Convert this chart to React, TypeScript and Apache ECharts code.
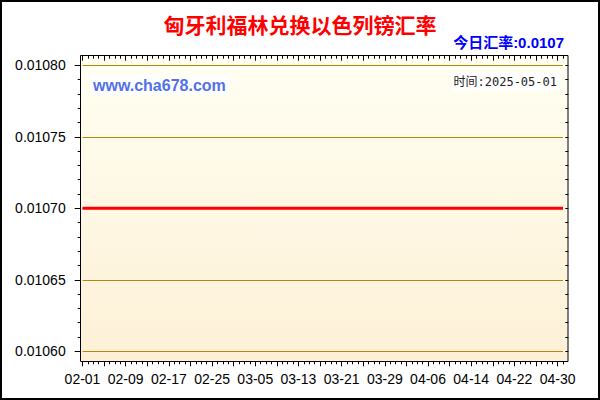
import React, { useEffect, useRef } from "react";
import * as echarts from "echarts";

const titleText = "匈牙利福林兑换以色列镑汇率";
const todayText = "今日汇率:0.0107";
const timeText = "时间:2025-05-01";
const siteText = "www.cha678.com";

const dates: string[] = [
  "02-01","02-02","02-03","02-04","02-05","02-06","02-07","02-08","02-09","02-10",
  "02-11","02-12","02-13","02-14","02-15","02-16","02-17","02-18","02-19","02-20",
  "02-21","02-22","02-23","02-24","02-25","02-26","02-27","02-28",
  "03-01","03-02","03-03","03-04","03-05","03-06","03-07","03-08","03-09","03-10",
  "03-11","03-12","03-13","03-14","03-15","03-16","03-17","03-18","03-19","03-20",
  "03-21","03-22","03-23","03-24","03-25","03-26","03-27","03-28","03-29","03-30","03-31",
  "04-01","04-02","04-03","04-04","04-05","04-06","04-07","04-08","04-09","04-10",
  "04-11","04-12","04-13","04-14","04-15","04-16","04-17","04-18","04-19","04-20",
  "04-21","04-22","04-23","04-24","04-25","04-26","04-27","04-28","04-29","04-30",
  "05-01",
];

const rates: number[] = [
  0.0107,0.0107,0.0107,0.0107,0.0107,0.0107,0.0107,0.0107,0.0107,0.0107,
  0.0107,0.0107,0.0107,0.0107,0.0107,0.0107,0.0107,0.0107,0.0107,0.0107,
  0.0107,0.0107,0.0107,0.0107,0.0107,0.0107,0.0107,0.0107,
  0.0107,0.0107,0.0107,0.0107,0.0107,0.0107,0.0107,0.0107,0.0107,0.0107,
  0.0107,0.0107,0.0107,0.0107,0.0107,0.0107,0.0107,0.0107,0.0107,0.0107,
  0.0107,0.0107,0.0107,0.0107,0.0107,0.0107,0.0107,0.0107,0.0107,0.0107,0.0107,
  0.0107,0.0107,0.0107,0.0107,0.0107,0.0107,0.0107,0.0107,0.0107,0.0107,
  0.0107,0.0107,0.0107,0.0107,0.0107,0.0107,0.0107,0.0107,0.0107,0.0107,
  0.0107,0.0107,0.0107,0.0107,0.0107,0.0107,0.0107,0.0107,0.0107,0.0107,
  0.0107,
];

const yMin = 0.0106;
const yMax = 0.0108;
const yStep = 0.00005;

const sansFont = '"Liberation Sans", Arial, "Noto Sans CJK SC", sans-serif';
const cjkBold = '"Liberation Sans", Arial, "Noto Sans CJK SC", sans-serif';

export default function App() {
  const ref = useRef<HTMLDivElement>(null);

  useEffect(() => {
    if (!ref.current) return;
    const chart = echarts.init(ref.current, undefined, { renderer: "svg" });

    const tickStyle = { color: "#000", width: 1 };
    const hiddenLine = { show: false };

    const option: any = {
      animation: false,
      backgroundColor: "#ffffff",
      grid: { left: 82.5, right: 37, top: 65.3, bottom: 48.7, containLabel: false },
      xAxis: [
        {
          type: "category",
          data: dates,
          boundaryGap: false,
          position: "bottom",
          offset: 10,
          axisLine: hiddenLine,
          axisTick: { show: true, interval: 0, length: 3, lineStyle: tickStyle },
          axisLabel: {
            interval: 7,
            margin: 11,
            fontSize: 14,
            color: "#000",
            fontFamily: sansFont,
          },
          splitLine: { show: false },
        },
        {
          type: "category",
          data: dates,
          boundaryGap: false,
          position: "bottom",
          offset: 10,
          axisLine: hiddenLine,
          axisTick: { show: true, interval: 3, length: 5, lineStyle: tickStyle },
          axisLabel: { show: false },
          splitLine: { show: false },
        },
        {
          type: "category",
          data: dates,
          boundaryGap: false,
          position: "top",
          offset: 9.6,
          axisLine: hiddenLine,
          axisTick: { show: true, inside: true, interval: 0, length: 3, lineStyle: tickStyle },
          axisLabel: { show: false },
          splitLine: { show: false },
        },
        {
          type: "category",
          data: dates,
          boundaryGap: false,
          position: "top",
          offset: 9.6,
          axisLine: hiddenLine,
          axisTick: { show: true, inside: true, interval: 3, length: 5, lineStyle: tickStyle },
          axisLabel: { show: false },
          splitLine: { show: false },
        },
      ],
      yAxis: [
        {
          type: "value",
          position: "left",
          min: yMin,
          max: yMax,
          interval: yStep,
          offset: 1.8,
          axisLine: hiddenLine,
          axisTick: { show: true, length: 6, lineStyle: tickStyle },
          minorTick: { show: true, splitNumber: 5, length: 3, lineStyle: tickStyle },
          axisLabel: {
            margin: 15,
            fontSize: 14,
            color: "#000",
            fontFamily: sansFont,
            formatter: (v: number) => v.toFixed(5),
          },
          splitLine: { show: true, lineStyle: { color: "#B8860B", width: 1 } },
        },
        {
          type: "value",
          position: "right",
          min: yMin,
          max: yMax,
          interval: 0.00001,
          offset: 5.3,
          axisLine: hiddenLine,
          axisTick: { show: true, inside: true, length: 3, lineStyle: tickStyle },
          axisLabel: { show: false },
          splitLine: { show: false },
        },
      ],
      graphic: [
        {
          type: "rect",
          z: -10,
          silent: true,
          shape: { x: 80.5, y: 55.5, width: 487.5, height: 306 },
          style: {
            fill: new echarts.graphic.LinearGradient(0, 0, 0, 1, [
              { offset: 0, color: "#FFFFF2" },
              { offset: 1, color: "#FDF0D6" },
            ]),
            stroke: "none",
          },
        },
        {
          type: "rect",
          z: 100,
          silent: true,
          shape: { x: 80.5, y: 55.5, width: 487.5, height: 306 },
          style: { fill: "none", stroke: "#000", lineWidth: 1 },
        },
        {
          type: "rect",
          z: 100,
          silent: true,
          shape: { x: 1, y: 1, width: 598, height: 398 },
          style: { fill: "none", stroke: "#000", lineWidth: 2 },
        },
        {
          type: "text",
          z: 100,
          x: 300,
          y: 25,
          style: {
            text: titleText,
            fill: "#FF0000",
            font: `bold 21px ${cjkBold}`,
            textAlign: "center",
            textVerticalAlign: "middle",
            align: "center",
            verticalAlign: "middle",
          },
        },
        {
          type: "text",
          z: 100,
          x: 564,
          y: 42.5,
          style: {
            text: todayText,
            fill: "#0000FF",
            font: `bold 15px ${cjkBold}`,
            textAlign: "right",
            textVerticalAlign: "middle",
            align: "right",
            verticalAlign: "middle",
          },
        },
        {
          type: "text",
          z: 100,
          x: 90,
          y: 85,
          style: {
            text: siteText,
            fill: "#5370E8",
            font: `bold 16px ${sansFont}`,
            backgroundColor: "#ffffff",
            padding: [2, 3],
            textAlign: "left",
            textVerticalAlign: "middle",
            align: "left",
            verticalAlign: "middle",
          },
        },
        {
          type: "text",
          z: 100,
          x: 559,
          y: 81.5,
          style: {
            text: timeText,
            fill: "#222222",
            font: '12px "DejaVu Sans Mono", "Noto Sans CJK SC", monospace',
            backgroundColor: "#ffffff",
            padding: [3, 2],
            textAlign: "right",
            textVerticalAlign: "middle",
            align: "right",
            verticalAlign: "middle",
          },
        },
      ],
      series: [
        {
          type: "line",
          data: rates,
          xAxisIndex: 0,
          yAxisIndex: 0,
          symbol: "none",
          z: 5,
          lineStyle: { color: "#FF0000", width: 3 },
          itemStyle: { color: "#FF0000" },
        },
      ],
    };

    chart.setOption(option);
    return () => {
      chart.dispose();
    };
  }, []);

  return (
    <div
      ref={ref}
      style={{ position: "fixed", left: 0, top: 0, width: 600, height: 400, background: "#fff" }}
    />
  );
}
